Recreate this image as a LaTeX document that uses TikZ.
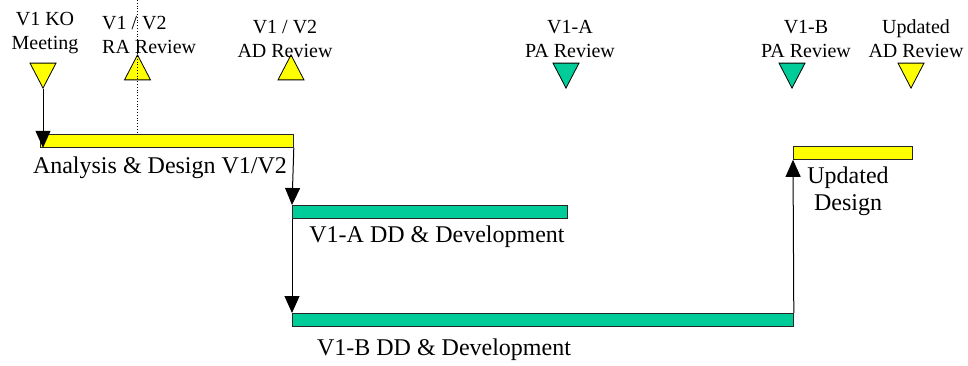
\documentclass[tikz,border=0pt]{standalone}
\usepackage{fontspec}
\setmainfont{Liberation Serif}
\usetikzlibrary{positioning, arrows.meta, shapes.geometric}

\definecolor{msYellow}{HTML}{FFFF00}
\definecolor{msGreen}{HTML}{00CC99}

\begin{document}
\begin{tikzpicture}[x=1pt, y=-1pt,
  milestone/.style={draw, isosceles triangle, isosceles triangle stretches,
              minimum width=26pt, minimum height=25pt, inner sep=0pt,
              line width=0.8pt},
  msdown/.style={milestone, shape border rotate=-90},
  msup/.style={milestone, shape border rotate=90},
  taskbar/.style={draw=black!85, line width=0.8pt, minimum height=13pt,
              inner sep=0pt, anchor=north west},
  mslabel/.style={font=\fontsize{20}{24}\selectfont, align=center,
              inner sep=0pt, anchor=base},
  tasklabel/.style={font=\fontsize{24}{27}\selectfont, align=center,
              inner sep=0pt, anchor=base},
  arr/.style={-{Triangle[length=17pt, width=15pt]}, line width=1pt}
]
  \useasboundingbox (0,0) rectangle (968,365);

  % Milestones
  \node[msdown, fill=msYellow] (ko)  at (43,71) {};
  \node[msup,   fill=msYellow] (ra)  at (137.5,72) {};
  \node[msup,   fill=msYellow] (adr) at (291,72) {};
  \node[msdown, fill=msGreen]  (paa) at (566,71) {};
  \node[msdown, fill=msGreen]  (pab) at (792,71) {};
  \node[msdown, fill=msYellow] (uad) at (911,71) {};

  % Milestone labels
  \node[mslabel] (koL)  at (45,49)  {V1 KO\\Meeting};
  \node[mslabel, align=left, anchor=base west] (raL) at (102,53) {V1 / V2\\RA Review};
  \node[mslabel] (adrL) at (285,57) {V1 / V2\\AD Review};
  \node[mslabel] (paaL) at (570,57) {V1-A\\PA Review};
  \node[mslabel] (pabL) at (806,57) {V1-B\\PA Review};
  \node[mslabel] (uadL) at (916,57) {Updated\\AD Review};

  % Task bars
  \node[taskbar, fill=msYellow, minimum width=253pt] (ad)   at (40,134)  {};
  \node[taskbar, fill=msGreen,  minimum width=275pt] (devA) at (292,205) {};
  \node[taskbar, fill=msGreen,  minimum width=501pt] (devB) at (292,313) {};
  \node[taskbar, fill=msYellow, minimum width=119pt] (upd)  at (793,146) {};

  % Task labels
  \node[tasklabel] (adL)   at (160,173) {Analysis \& Design V1/V2};
  \node[tasklabel] (devAL) at (437,242) {V1-A DD \& Development};
  \node[tasklabel] (devBL) at (444,355) {V1-B DD \& Development};
  \node[tasklabel] (updL)  at (848,210) {Updated\\Design};

  % Connectors
  \coordinate (top) at (0,0);
  \draw[dotted, line width=0.8pt] (ra.center |- top) -- (ra.center |- ad.north);
  \draw[arr] (ko.apex) -- (ko.apex |- ad.south);
  \draw[arr] (ad.south east) -- (devA.north west);
  \draw[arr] (devA.south west) -- (devB.north west);
  \draw[arr] (devB.north east) -- (upd.south west);

\end{tikzpicture}
\end{document}
